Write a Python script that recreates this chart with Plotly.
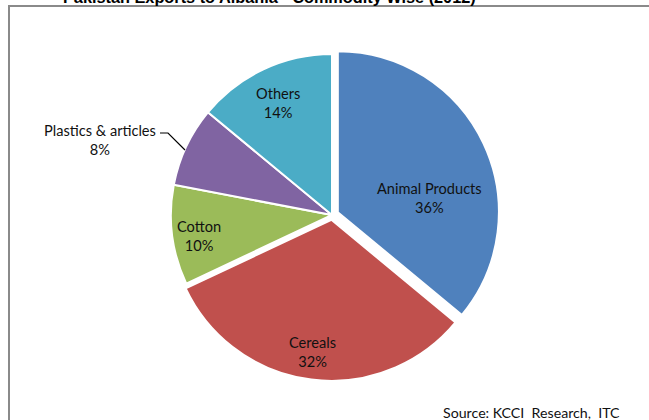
import plotly.graph_objects as go

W, H = 649, 420

categories = ["Animal Products", "Cereals", "Cotton", "Plastics & articles", "Others"]
shares = [36, 32, 10, 8, 14]
colors = ["#4F81BD", "#C0504D", "#9BBB59", "#8064A2", "#4BACC6"]
pulls = [0.04, 0.03, 0, 0, 0]

title_text = "Pakistan Exports to Albania - Commodity Wise (2012)"
source_text = "Source: KCCI&nbsp; Research,&nbsp; ITC"

def px(x):
    return x / W

def py(y):
    return 1 - y / H

fig = go.Figure()
fig.add_trace(go.Pie(
    labels=categories,
    values=shares,
    sort=False,
    direction="clockwise",
    rotation=0,
    pull=pulls,
    marker=dict(colors=colors, line=dict(color="white", width=2)),
    textinfo="none",
    hoverinfo="label+percent",
    showlegend=False,
    domain=dict(x=[px(132), px(532)], y=[py(382.5), py(47.5)]),
))

# label positions (pixels) for each category
label_pos = [(429.5, 198), (312, 352), (199, 236), (100, 140.5), (278, 102.5)]
anns = []
for cat, val, (lx, ly) in zip(categories, shares, label_pos):
    anns.append(dict(
        x=px(lx), y=py(ly), xref="paper", yref="paper",
        text=f"{cat}<br>{val}%", showarrow=False,
        xanchor="center", yanchor="middle", align="center",
        font=dict(family="Lato", size=14.6, color="#111111"),
    ))

anns.append(dict(
    x=px(269), y=py(-3), xref="paper", yref="paper",
    text=f"<b>{title_text}</b>", showarrow=False,
    xanchor="center", yanchor="middle",
    font=dict(family="Liberation Sans", size=16.3, color="#000000"),
))
anns.append(dict(
    x=px(622), y=py(412), xref="paper", yref="paper",
    text=source_text, showarrow=False,
    xanchor="right", yanchor="middle",
    font=dict(family="Lato", size=14.2, color="#111111"),
))

shapes = [
    dict(type="rect", xref="paper", yref="paper",
         x0=px(9), x1=px(700), y0=py(460), y1=py(6),
         line=dict(color="#8a8a8a", width=2), fillcolor="rgba(0,0,0,0)", layer="below"),
    dict(type="path", xref="paper", yref="paper",
         path=f"M {px(160)} {py(133)} L {px(168)} {py(133)} L {px(185)} {py(150)}",
         line=dict(color="#000000", width=1.2)),
]

fig.update_layout(
    width=W, height=H,
    margin=dict(l=0, r=0, t=0, b=0),
    paper_bgcolor="white",
    plot_bgcolor="white",
    annotations=anns,
    shapes=shapes,
)

fig.write_html("out.html")
